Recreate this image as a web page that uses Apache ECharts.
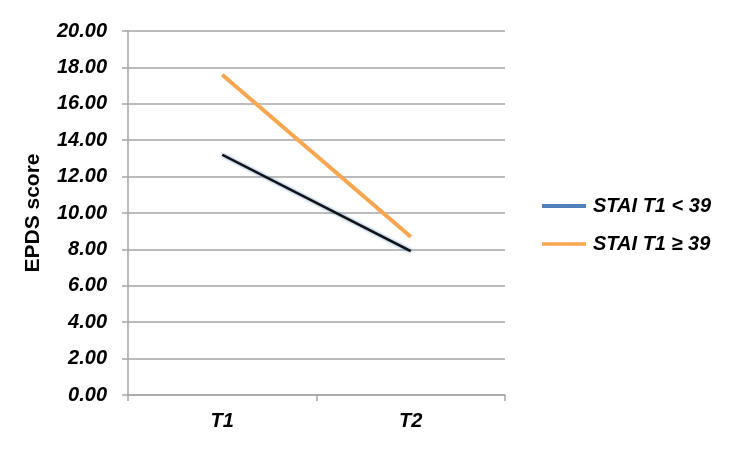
<!DOCTYPE html>
<html><head><meta charset="utf-8">
<script src="https://cdn.jsdelivr.net/npm/echarts@6/dist/echarts.min.js"></script>
<style>html,body{margin:0;padding:0;background:#fff}#c{width:740px;height:450px}</style>
</head><body><div id="c"></div>
<script>
const categories = ['T1', 'T2'];
const lowAnxiety = [13.2, 7.9];
const highAnxiety = [17.6, 8.7];
const seriesNames = ['STAI T1 < 39', 'STAI T1 \u2265 39'];
const yTicks = { min: 0, max: 20, interval: 2 };

const chart = echarts.init(document.getElementById('c'), null, { renderer: 'canvas' });
const font = 'Arial, "Liberation Sans", sans-serif';
chart.setOption({
  animation: false,
  backgroundColor: '#fff',
  grid: { left: 128, right: 235, top: 31, bottom: 55 },
  legend: {
    orient: 'vertical', left: 542, top: 196, padding: 0, itemGap: 18,
    itemWidth: 44, itemHeight: 20,
    textStyle: { fontFamily: font, fontSize: 20, fontWeight: 'bold', fontStyle: 'italic', color: '#000', padding: [0, 0, 0, 2] },
    data: [
      { name: seriesNames[0], icon: 'path://M0,0 L44,0 L44,4 L0,4 Z', itemStyle: { color: '#4f81bd' } },
      { name: seriesNames[1], icon: 'path://M0,0 L44,0 L44,3.5 L0,3.5 Z', itemStyle: { color: '#f9a650' } }
    ]
  },
  xAxis: {
    type: 'category', data: categories, boundaryGap: true,
    axisLine: { lineStyle: { color: '#a6a6a6', width: 1.5 } },
    axisTick: { show: true, length: 6, lineStyle: { color: '#a6a6a6', width: 1.5 } },
    axisLabel: { margin: 16, fontFamily: font, fontSize: 20, fontWeight: 'bold', fontStyle: 'italic', color: '#000' }
  },
  yAxis: {
    type: 'value', min: yTicks.min, max: yTicks.max, interval: yTicks.interval,
    name: 'EPDS score', nameLocation: 'middle', nameGap: 84, nameRotate: 90,
    nameTextStyle: { fontFamily: font, fontSize: 21, fontWeight: 'bold', color: '#000' },
    axisLine: { show: true, lineStyle: { color: '#a6a6a6', width: 1.5 } },
    axisTick: { show: true, length: 6, lineStyle: { color: '#a6a6a6', width: 1.5 } },
    splitLine: { lineStyle: { color: '#a6a6a6', width: 1.5 } },
    axisLabel: { margin: 21, fontFamily: font, fontSize: 20, fontWeight: 'bold', fontStyle: 'italic', color: '#000',
      formatter: v => v.toFixed(2) }
  },
  series: [
    { name: seriesNames[0], type: 'line', data: lowAnxiety, symbol: 'none',
      itemStyle: { color: '#4f81bd' },
      lineStyle: { color: '#111', width: 2.5, shadowColor: '#4f81bd', shadowBlur: 3 }, z: 3 },
    { name: seriesNames[1], type: 'line', data: highAnxiety, symbol: 'none',
      itemStyle: { color: '#f9a650' },
      lineStyle: { color: '#f9a650', width: 4 }, z: 2 }
  ]
});
</script></body></html>
